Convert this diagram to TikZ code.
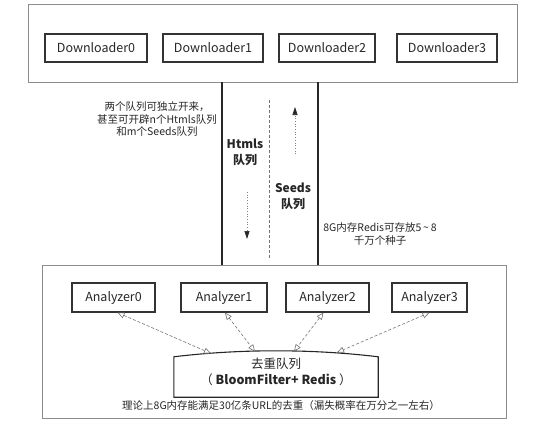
\documentclass[tikz,border=0pt]{standalone}
\usepackage{fontspec}
\setmainfont{Noto Sans CJK SC}
\usetikzlibrary{arrows.meta,calc}
\begin{document}
\begin{tikzpicture}[x=1pt,y=-1pt,
  outer/.style={draw=black!45, line width=0.9pt, inner sep=0pt},
  box/.style={draw=black!80, line width=1.2pt, inner sep=0pt, minimum height=28pt,
    font=\fontsize{12.5}{14}\selectfont, text=black!85},
  note/.style={align=center, inner sep=0pt, font=\fontsize{10.5}{12.5}\selectfont, text=black!85},
  qlabel/.style={align=center, inner sep=0pt, font=\bfseries\fontsize{12}{16}\selectfont, text=black!85},
  link/.style={draw=black!55, dash pattern=on 3pt off 2pt, line width=0.6pt,
    {Triangle[open,length=7pt,width=6pt]}-{Triangle[open,length=7pt,width=6pt]}},
  flow/.style={draw=black!50, dotted, line width=0.7pt,
    -{Triangle[length=8pt,width=5pt,color=black!85]}},
  pipe/.style={draw=black!85, line width=1.1pt}
]
\useasboundingbox (0,0) rectangle (544,431);

% containers
\node[outer, minimum width=489pt, minimum height=78pt] (top) at (272.5,43) {};
\node[outer, minimum width=464pt, minimum height=153pt] (bot) at (274,341.5) {};

% downloaders
\node[box, minimum width=102pt] (d0) at (96,48) {Downloader0};
\node[box, minimum width=100pt] (d1) at (213,48) {Downloader1};
\node[box, minimum width=96pt]  (d2) at (327,48) {Downloader2};
\node[box, minimum width=100pt] (d3) at (447,48) {Downloader3};

% analyzers
\node[box, minimum width=83pt, minimum height=29pt] (a0) at (113.5,297.5) {Analyzer0};
\node[box, minimum width=86pt, minimum height=29pt] (a1) at (224,297.5) {Analyzer1};
\node[box, minimum width=83pt, minimum height=29pt] (a2) at (327.5,297.5) {Analyzer2};
\node[box, minimum width=75pt, minimum height=29pt] (a3) at (429.5,297.5) {Analyzer3};

% pipes between containers
\coordinate (p1) at (222,0);
\coordinate (p2) at (318,0);
\draw[pipe] (p1 |- top.south) -- (p1 |- bot.north);
\draw[pipe] (p2 |- top.south) -- (p2 |- bot.north);
\coordinate (mid) at (269,0);
\draw[draw=black!55, dash pattern=on 3pt off 2pt, line width=0.7pt] (mid |- 0,100) -- (mid |- 0,258);

% flow arrows
\coordinate (upS) at (295,154);
\coordinate (upE) at (295,107);
\coordinate (dnS) at (247,192);
\coordinate (dnE) at (247,239);
\draw[flow] (upS) -- (upE);
\draw[flow] (dnS) -- (dnE);

% queue labels
\node[qlabel] (hl) at (245,152) {Htmls\\队列};
\node[qlabel] (sl) at (293,196) {Seeds\\队列};

% notes
\node[note] (n1) at (157,119.5) {两个队列可独立开来，\\甚至可开辟n个Htmls队列\\和m个Seeds队列};
\node[note] (n2) at (380,234) {8G内存Redis可存放5\,\textasciitilde\,8\\千万个种子};

% dedup queue
\node[inner sep=0pt, minimum width=204pt, minimum height=40pt] (dq) at (276,377) {};
\node[inner sep=0pt, align=center, font=\fontsize{12.5}{16}\selectfont, text=black!85] (dqt) at (276,372)
  {去重队列\\（ \textbf{BloomFilter+ Redis} ）};
\draw[line width=1.1pt, draw=black!85] (dq.south west) -- (dq.north west)
  .. controls ($(dq.north west)+(66,-8)$) and ($(dq.north east)+(-66,-8)$) .. (dq.north east)
  -- (dq.south east) -- cycle;
\coordinate (q0) at (211,353.5);
\coordinate (q1) at (255,351.6);
\coordinate (q2) at (294,351.4);
\coordinate (q3) at (337,352.5);

\draw[link] ($(a0.south)+(4,0)$) -- (q0);
\draw[link] ($(a1.south)+(1,0)$) -- (q1);
\draw[link] ($(a2.south)+(-4,0)$) -- (q2);
\draw[link] (a3.south) -- (q3);

\node[note] (n3) at (281,406) {理论上8G内存能满足30亿条URL的去重（漏失概率在万分之一左右）};
\end{tikzpicture}
\end{document}
